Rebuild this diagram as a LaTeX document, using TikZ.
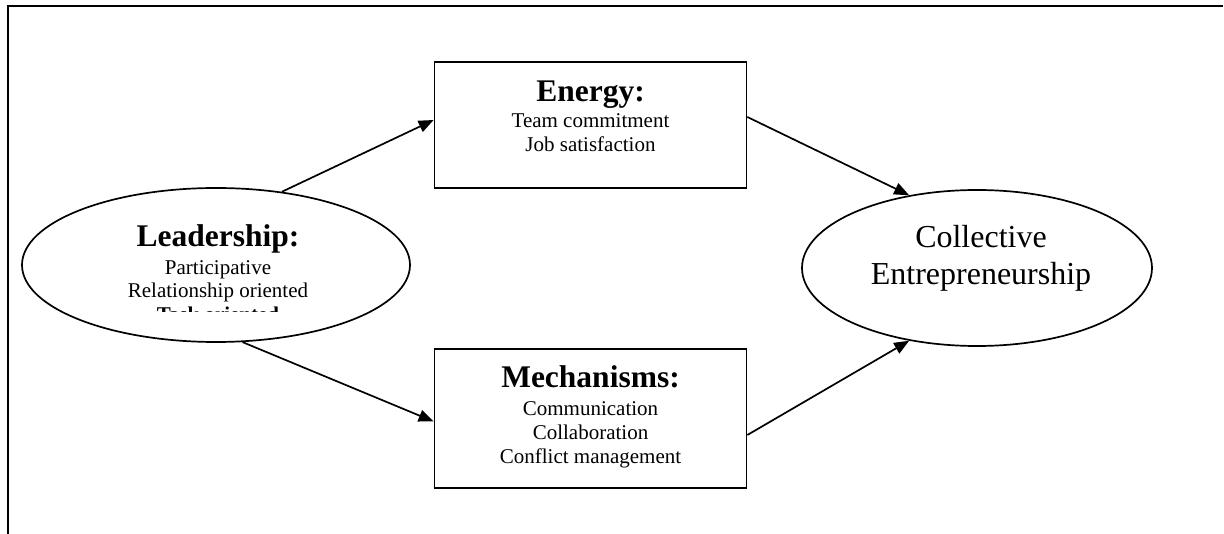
\documentclass[tikz,border=0pt]{standalone}
\usepackage{fontspec}
\setmainfont{Liberation Serif}
\usetikzlibrary{arrows.meta,calc,shapes.geometric}

\begin{document}
\begin{tikzpicture}[x=1pt,y=-1pt,
  framerule/.style={line width=2.2pt},
  shapeline/.style={draw,line width=1.7pt},
  boxshape/.style={shapeline,rectangle,inner sep=0pt},
  ovalshape/.style={shapeline,ellipse,inner sep=0pt},
  heading/.style={anchor=base,inner sep=0pt,font=\fontsize{31.5}{36}\selectfont\bfseries},
  smalltext/.style={anchor=base,inner sep=0pt,font=\fontsize{21}{24}\selectfont},
  bigtext/.style={anchor=base,inner sep=0pt,font=\fontsize{32}{37}\selectfont},
  flow/.style={line width=1.7pt,-{Triangle[length=15pt,width=12pt]}}
]
\useasboundingbox (0,0) rectangle (1224,534);

% open frame: top and left rules
\coordinate (fbl) at (7.8,534);
\coordinate (ftl) at (7.8,6);
\coordinate (ftr) at (1223,6);
\draw[framerule] (fbl) -- (ftl) -- (ftr);

% shapes
\node[ovalshape,minimum width=388pt,minimum height=154pt] (lead) at (216,265) {};
\node[boxshape,minimum width=312pt,minimum height=126pt] (energy) at (590.5,125) {};
\node[boxshape,minimum width=312pt,minimum height=139pt] (mech) at (590.5,418.5) {};
\node[ovalshape,minimum width=350pt,minimum height=156pt] (coll) at (977,268) {};

% leadership text
\node[heading] (leadT) at (218,247) {Leadership:};
\node[smalltext] (leadA) at (218,275) {Participative};
\node[smalltext] (leadB) at (218,298) {Relationship oriented};
\begin{scope}
  \clip (100,300) rectangle (340,311.5);
  \node[smalltext,font=\fontsize{21}{24}\selectfont\bfseries] (leadC) at (218,322) {Task oriented};
\end{scope}

% energy text
\node[heading] (enT) at (590.5,102) {Energy:};
\node[smalltext] (enA) at (590.5,128) {Team commitment};
\node[smalltext] (enB) at (590.5,152) {Job satisfaction};

% mechanisms text
\node[heading] (meT) at (590.5,388) {Mechanisms:};
\node[smalltext] (meA) at (590.5,416) {Communication};
\node[smalltext] (meB) at (590.5,440) {Collaboration};
\node[smalltext] (meC) at (590.5,464) {Conflict management};

% outcome text
\node[bigtext] (coA) at (981,248) {Collective};
\node[bigtext] (coB) at (981,285) {Entrepreneurship};

% connectors
\draw[flow] (lead.48) -- ($(energy.west)+(0,-5)$);
\draw[flow] (lead.-71) -- ($(mech.west)+(0,3)$);
\draw[flow] ($(energy.east)+(0,-8)$) -- (coll.133);
\draw[flow] ($(mech.east)+(0,16.5)$) -- (coll.-133);
\end{tikzpicture}
\end{document}
